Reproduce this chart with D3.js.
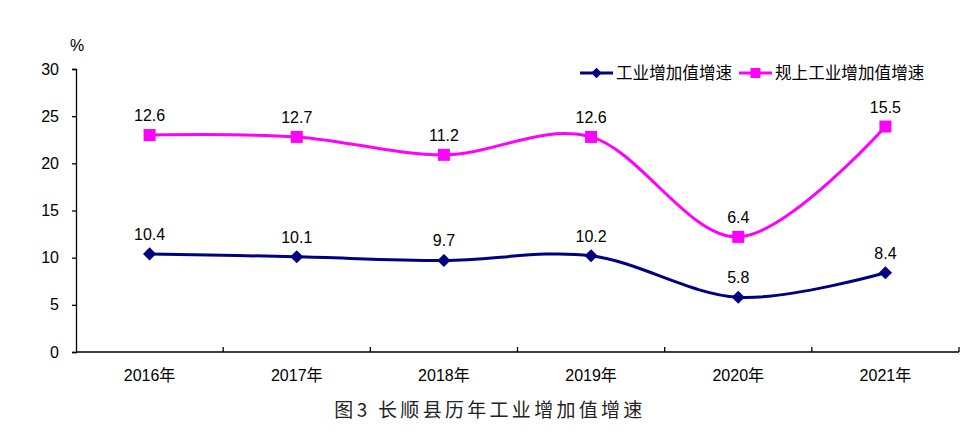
<!DOCTYPE html>
<html>
<head>
<meta charset="utf-8">
<script src="https://cdn.jsdelivr.net/npm/d3@7"></script>
<style>
  body { margin: 0; background: #fff; }
  svg { display: block; font-family: "Liberation Sans", Arial, sans-serif; }
</style>
</head>
<body>
<svg id="chart"></svg>
<script>
// data
const years = ['2016年', '2017年', '2018年', '2019年', '2020年', '2021年'];
const industry = [10.4, 10.1, 9.7, 10.2, 5.8, 8.4];         // 工业增加值增速
const aboveScale = [12.6, 12.7, 11.2, 12.6, 6.4, 15.5];     // 规上工业增加值增速 (stacked on top)
const yTicks = [0, 5, 10, 15, 20, 25, 30];
const seriesNames = ['工业增加值增速', '规上工业增加值增速'];

const width = 976, height = 436;
const margin = { top: 69, right: 17, bottom: 84, left: 76 };
const innerW = width - margin.left - margin.right;
const innerH = height - margin.top - margin.bottom;

const svg = d3.select('#chart')
    .attr('width', width)
    .attr('height', height);

const chart = svg.append('g')
    .attr('transform', `translate(${margin.left}, ${margin.top})`);

const xScale = d3.scaleBand()
    .domain(years)
    .range([0, innerW]);

const yScale = d3.scaleLinear()
    .domain([0, 30])
    .range([innerH, 0]);

// y axis
const yAxis = d3.axisLeft(yScale)
    .tickValues(yTicks)
    .tickSize(4)
    .tickPadding(13);
const yG = chart.append('g').call(yAxis);
yG.select('.domain').attr('stroke', '#000').attr('stroke-width', 1.3);
yG.selectAll('.tick line').attr('stroke', '#000').attr('stroke-width', 1.3);
yG.selectAll('.tick text').attr('font-size', 16).attr('fill', '#000')
    .attr('font-family', '"Liberation Sans", Arial, sans-serif');

// x axis: line + ticks at category boundaries (inside)
const xG = chart.append('g').attr('transform', `translate(0, ${innerH})`);
xG.append('line')
    .attr('x1', 0).attr('x2', innerW)
    .attr('stroke', '#000').attr('stroke-width', 1.3);
const bounds = years.map(d => xScale(d)).concat([innerW]).slice(1);
xG.selectAll('.bt').data(bounds).enter().append('line')
    .attr('x1', d => d).attr('x2', d => d)
    .attr('y1', 0).attr('y2', -5)
    .attr('stroke', '#000').attr('stroke-width', 1.3);
xG.selectAll('.xl').data(years).enter().append('text')
    .attr('x', d => xScale(d) + xScale.bandwidth() / 2)
    .attr('y', 29)
    .attr('text-anchor', 'middle')
    .attr('font-size', 16)
    .attr('font-family', '"Liberation Sans", "Noto Sans CJK SC", sans-serif')
    .text(d => d);

// % unit
svg.append('text')
    .attr('x', 77).attr('y', 51)
    .attr('text-anchor', 'middle')
    .attr('font-size', 16)
    .text('%');

const cx = d => xScale(d) + xScale.bandwidth() / 2;

const s1 = years.map((y, i) => ({ year: y, v: industry[i], label: industry[i] }));
const s2 = years.map((y, i) => ({ year: y, v: industry[i] + aboveScale[i], label: aboveScale[i] }));

const line = d3.line()
    .x(d => cx(d.year))
    .y(d => yScale(d.v))
    .curve(d3.curveCatmullRom.alpha(0));

const navy = '#000080', magenta = '#FF00FF';

chart.append('path').datum(s2)
    .attr('d', line).attr('fill', 'none')
    .attr('stroke', magenta).attr('stroke-width', 3);
chart.append('path').datum(s1)
    .attr('d', line).attr('fill', 'none')
    .attr('stroke', navy).attr('stroke-width', 3);

chart.selectAll('.sq').data(s2).enter().append('rect')
    .attr('x', d => cx(d.year) - 6)
    .attr('y', d => yScale(d.v) - 6)
    .attr('width', 12).attr('height', 12)
    .attr('fill', magenta);

const diamond = d3.symbol().type(d3.symbolDiamond2).size(110);
chart.selectAll('.dm').data(s1).enter().append('path')
    .attr('d', diamond)
    .attr('transform', d => `translate(${cx(d.year)}, ${yScale(d.v)})`)
    .attr('fill', navy);

// data labels
[s1, s2].forEach(s => {
    chart.selectAll(null).data(s).enter().append('text')
        .attr('x', d => cx(d.year))
        .attr('y', d => yScale(d.v) - 14)
        .attr('text-anchor', 'middle')
        .attr('font-size', 16)
        .text(d => d.label.toFixed(1));
});

// legend
const legend = svg.append('g').attr('transform', 'translate(580, 73)');
const items = [
    { name: seriesNames[0], color: navy, x: 0, w: 33, shape: 'd' },
    { name: seriesNames[1], color: magenta, x: 159, w: 33, shape: 's' }
];
items.forEach(it => {
    const g = legend.append('g').attr('transform', `translate(${it.x}, 0)`);
    g.append('line').attr('x1', 0).attr('x2', it.w)
        .attr('stroke', it.color).attr('stroke-width', 3);
    if (it.shape === 'd') {
        g.append('path').attr('d', d3.symbol().type(d3.symbolDiamond2).size(70))
            .attr('transform', `translate(${it.w / 2}, 0)`).attr('fill', it.color);
    } else {
        g.append('rect').attr('x', it.w / 2 - 5).attr('y', -5)
            .attr('width', 10).attr('height', 10).attr('fill', it.color);
    }
    g.append('text').attr('x', it.w + 3).attr('y', 6)
        .attr('font-size', 16.6)
        .attr('font-family', '"Noto Sans CJK SC", sans-serif')
        .text(it.name);
});

// caption
svg.append('text')
    .attr('x', 490).attr('y', 417)
    .attr('text-anchor', 'middle')
    .attr('font-size', 19)
    .attr('letter-spacing', 3.3)
    .attr('fill', '#222')
    .attr('font-family', '"Noto Sans CJK SC", sans-serif')
    .text('图3 长顺县历年工业增加值增速');
</script>
</body>
</html>
